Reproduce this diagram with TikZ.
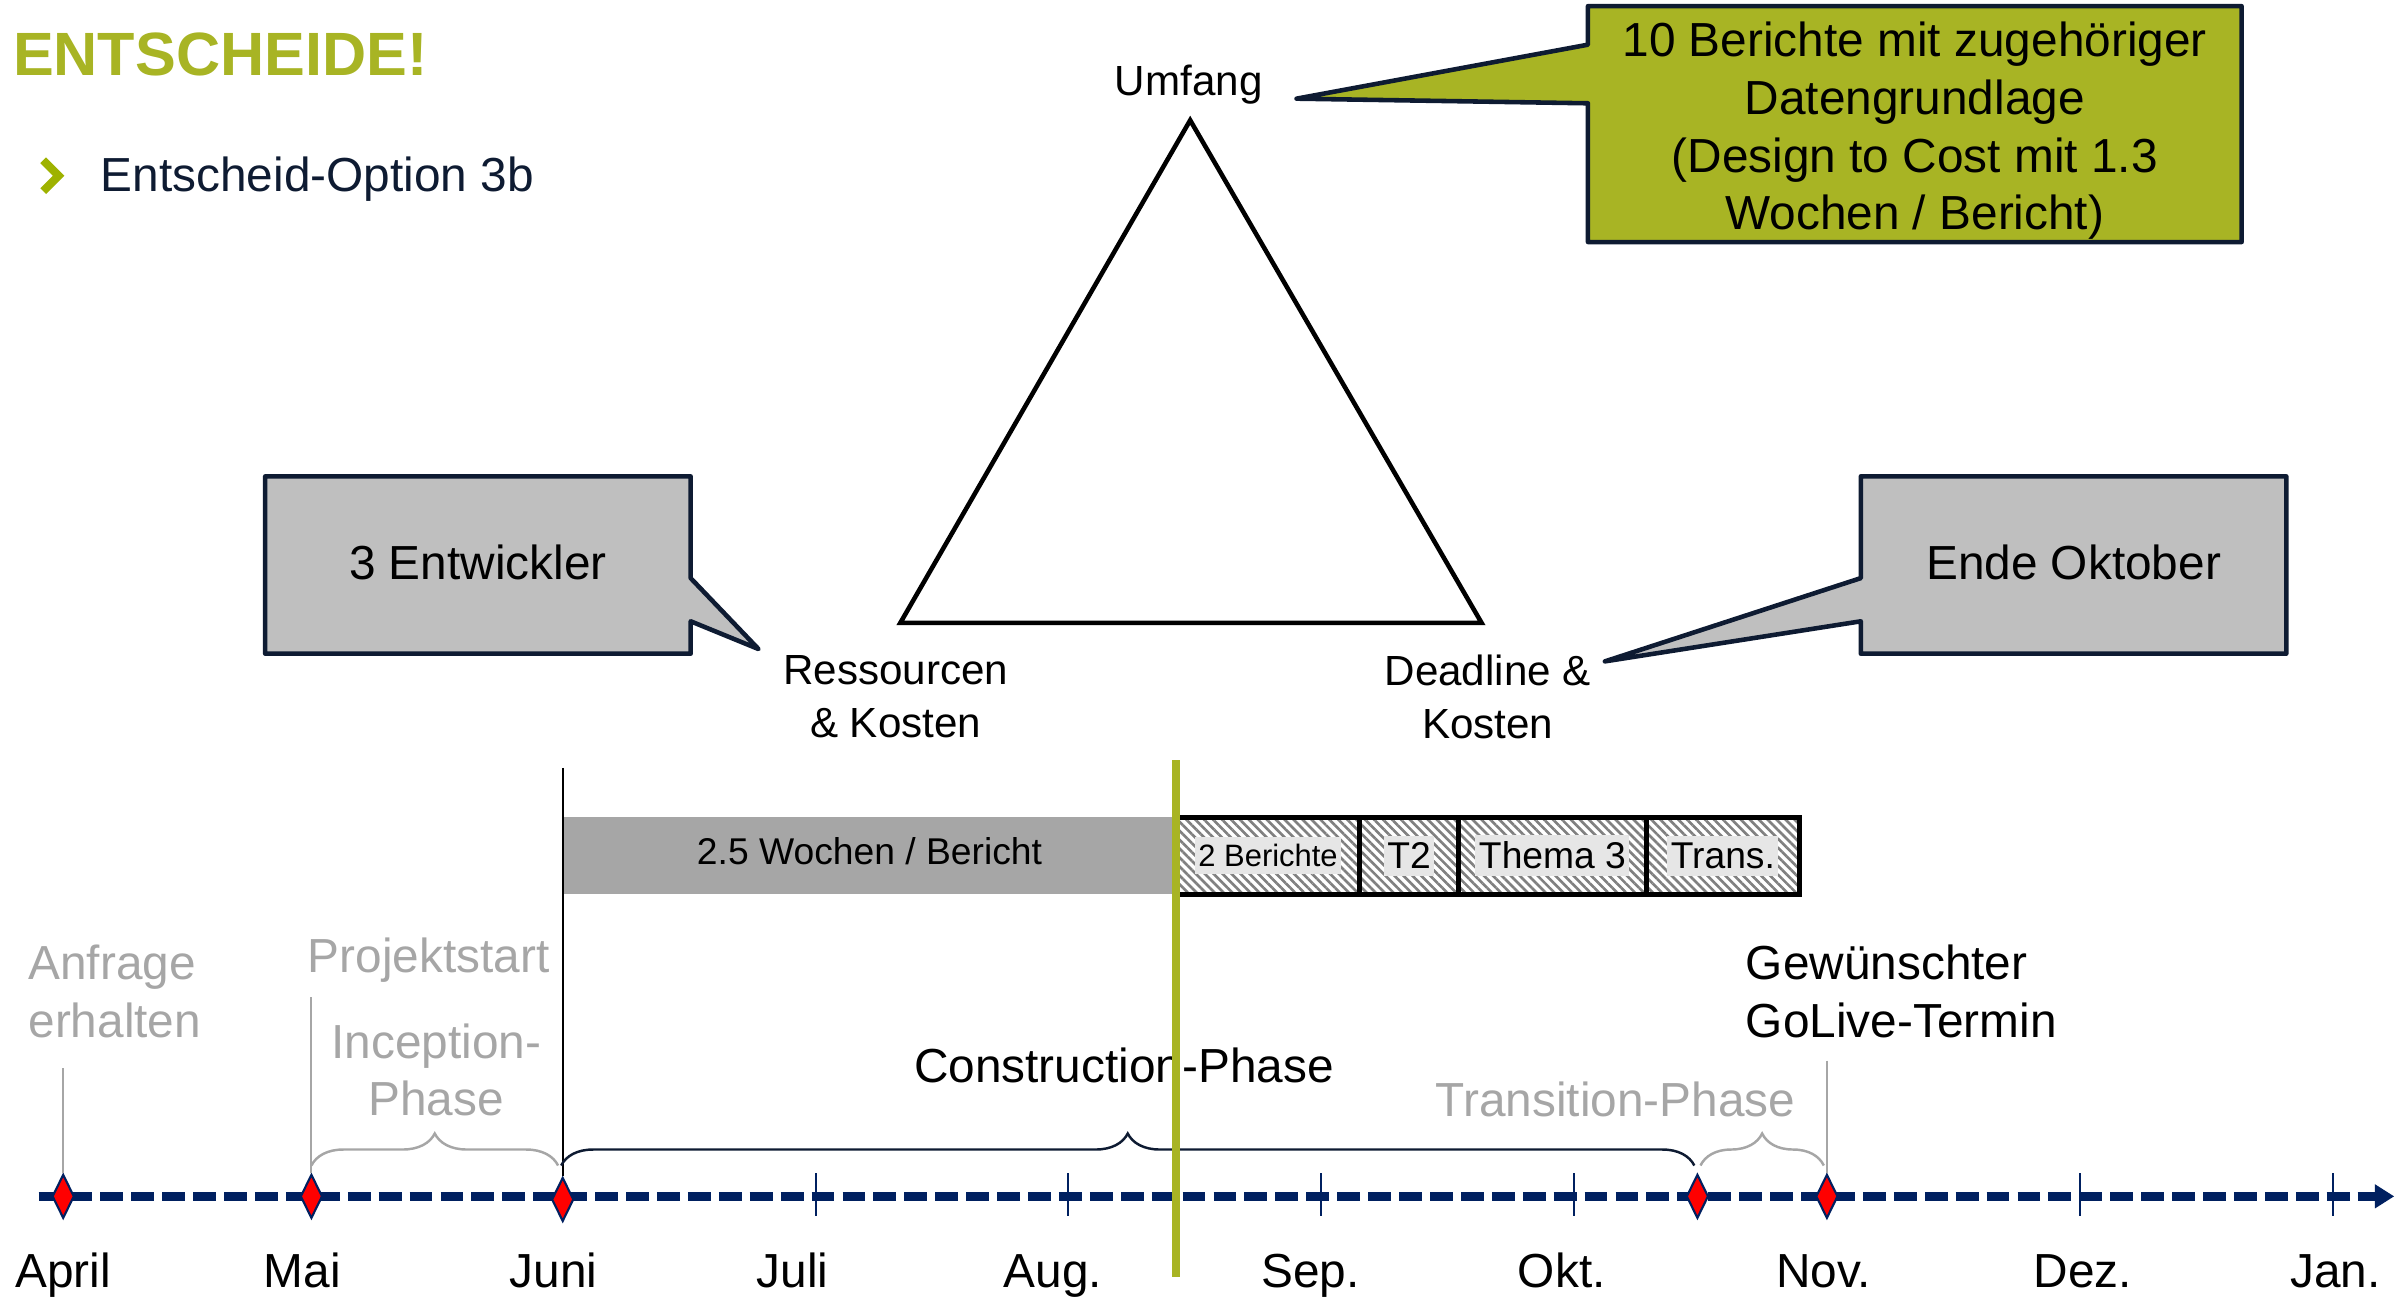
\documentclass[tikz,border=0pt]{standalone}
\usepackage{fontspec}
\setmainfont{Liberation Sans}
\usetikzlibrary{shapes.geometric,patterns.meta,decorations.pathreplacing,arrows.meta}
\definecolor{entgreen}{RGB}{168,180,36}
\definecolor{chevgreen}{RGB}{158,178,0}
\definecolor{axisblue}{RGB}{0,32,96}
\definecolor{framecol}{RGB}{14,27,50}
\definecolor{greytxt}{RGB}{166,166,166}
\definecolor{boxgrey}{RGB}{191,191,191}
\definecolor{bargrey}{RGB}{166,166,166}
\definecolor{taggrey}{RGB}{230,230,230}
\newcommand{\fbig}{\fontsize{13.6}{16.4}\selectfont}
\newcommand{\fmid}{\fontsize{12}{15}\selectfont}
\newcommand{\fsmall}{\fontsize{10.6}{12}\selectfont}

\begin{document}
\begin{tikzpicture}[x=0.1542mm, y=-0.1542mm,
        txt/.style={font=\fbig, inner sep=0pt},
        grey/.style={txt, text=greytxt},
        month/.style={txt, anchor=base},
        callout/.style={draw=framecol, line width=1.3pt, line join=round},
        hatch/.style={draw=black, line width=1.4pt,
          pattern={Lines[angle=-45, distance=1.8pt, line width=0.75pt]},
          pattern color=gray},
        tag/.style={font=\fsmall, fill=taggrey, inner xsep=1pt, inner ysep=2pt},
        mile/.style={diamond, draw=axisblue, fill=red, line width=0.6pt,
          inner sep=0pt, minimum width=2.2mm, minimum height=4.4mm},
        tick/.style={draw=axisblue, line width=0.6pt},
        phase/.style={decorate, decoration={brace, amplitude=3.2mm}, line width=0.7pt},
        >=latex]
     \useasboundingbox (0,0) rectangle (1560,841.3);
     \node (title) at (8,49) [anchor=base west, inner sep=0pt, text=entgreen,
       font=\fontsize{17.4}{20}\selectfont\bfseries] {ENTSCHEIDE!};
     \draw[chevgreen, line width=2.3pt] (28,104) -- (38,114) -- (28,124);
     \node (opt) at (65,124) [txt, anchor=base west, text=framecol] {Entscheid-Option 3b};
     \coordinate (U) at (772,78);
     \coordinate (R) at (584,404);
     \coordinate (D) at (961,404);
     \draw[line width=1.3pt] (U) -- (R) -- (D) -- cycle;
     \node (lU) at (771,62) [txt, font=\fmid, anchor=base] {Umfang};
     \node (lR) at (581,452) [txt, font=\fmid, align=center] {Ressourcen\\\& Kosten};
     \node (lD) at (965,452) [txt, font=\fmid, align=center] {Deadline \&\\Kosten};
     \draw[callout, fill=entgreen] (1030,4) -- (1454,4) -- (1454,157) -- (1030,157)
       -- (1030,67) -- (841,64) -- (1030,29) -- cycle;
     \node (cU) at (1242,85) [txt, align=center] {10 Berichte mit zugehöriger\\Datengrundlage\\(Design to Cost mit 1.3\\Wochen / Bericht)};
     \draw[callout, fill=boxgrey] (172,309) -- (448,309) -- (448,375) -- (492,421)
       -- (448,403) -- (448,424) -- (172,424) -- cycle;
     \node (cR) at (310,376) [txt, anchor=base] {3 Entwickler};
     \draw[callout, fill=boxgrey] (1207,309) -- (1483,309) -- (1483,424) -- (1207,424)
       -- (1207,403) -- (1041,429) -- (1207,375) -- cycle;
     \node (cD) at (1345,376) [txt, anchor=base] {Ende Oktober};
     \fill[bargrey] (365,530) rectangle (763,580);
     \node (bar) at (564,561) [txt, font=\fsmall, anchor=base] {2.5 Wochen / Bericht};
     \draw[hatch] (763,530) rectangle (882,580);
     \draw[hatch] (882,530) rectangle (946,580);
     \draw[hatch] (946,530) rectangle (1068,580);
     \draw[hatch] (1068,530) rectangle (1167,580);
     \node (b1) at (822.5,555) [tag, font=\fontsize{8.8}{10}\selectfont] {2 Berichte};
     \node (b2) at (914,555) [tag] {T2};
     \node (b3) at (1007,555) [tag] {Thema 3};
     \node (b4) at (1117.5,555) [tag] {Trans.};
     \node (req) at (18,643) [grey, anchor=west, align=left] {Anfrage\\erhalten};
     \node (start) at (278,631) [grey, anchor=base] {Projektstart};
     \node (inc) at (283,694) [grey, align=center] {Inception-\\Phase};
     \node (con) at (729,702) [txt, anchor=base] {Construction-Phase};
     \node (tra) at (1048,724) [grey, anchor=base] {Transition-Phase};
     \node (go) at (1132,643) [txt, anchor=west, align=left] {Gewünschter\\GoLive-Termin};
     \coordinate (t0) at (25,776);
     \coordinate (t1) at (1553,776);
     \draw[axisblue, line width=2.5pt, dash pattern=on 6.5pt off 2.3pt,
       -{Triangle[length=5.5pt, width=6.5pt]}] (t0) -- (t1);
     \draw[tick] (529,761) -- (529,789);
     \draw[tick] (693,761) -- (693,789);
     \draw[tick] (857,761) -- (857,789);
     \draw[tick] (1021,761) -- (1021,789);
     \draw[tick] (1349,761) -- (1349,789);
     \draw[tick] (1513,761) -- (1513,789);
     \node (dApr) at (41,776) [mile] {};
     \node (dMai) at (202,776) [mile] {};
     \node (dJun) at (365,778) [mile] {};
     \node (dTra) at (1101,776) [mile] {};
     \node (dNov) at (1185,776) [mile] {};
     \draw[greytxt, line width=0.6pt] (41,693) -- (dApr.north);
     \draw[greytxt, line width=0.6pt] (202,647) -- (dMai.north);
     \draw[greytxt, line width=0.6pt] (1185,688) -- (dNov.north);
     \draw[line width=0.6pt] (365,498) -- (dJun.north);
     \draw[phase, greytxt] (202,756) -- (362,756);
     \draw[phase, framecol] (364,756) -- (1099,756);
     \draw[phase, greytxt] (1103,756) -- (1183,756);
     \draw[entgreen, line width=2.2pt] (763,493) -- (763,828);
     \node (Apr) at (41,835) [month] {April};
     \node (Mai) at (196,835) [month] {Mai};
     \node (Jun) at (359,835) [month] {Juni};
     \node (Jul) at (514,835) [month] {Juli};
     \node (Aug) at (683,835) [month] {Aug.};
     \node (Sep) at (850,835) [month] {Sep.};
     \node (Okt) at (1013,835) [month] {Okt.};
     \node (Nov) at (1183,835) [month] {Nov.};
     \node (Dez) at (1351,835) [month] {Dez.};
     \node (Jan) at (1515,835) [month] {Jan.};
    \end{tikzpicture}
\end{document}
